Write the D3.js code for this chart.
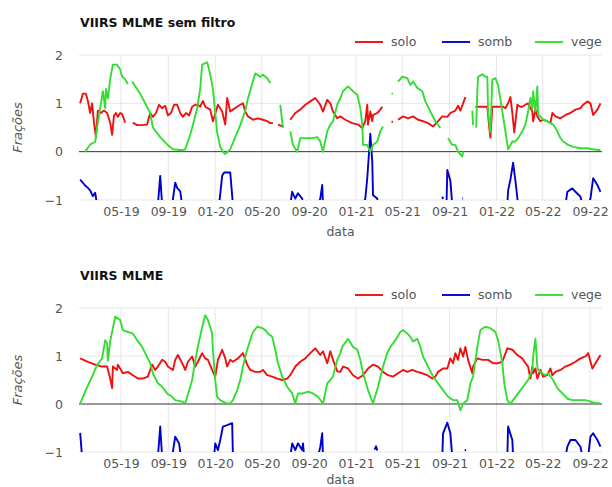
<!DOCTYPE html>
<html>
<head>
<meta charset="utf-8">
<script src="https://cdn.jsdelivr.net/npm/d3@7"></script>
<style>
  body { margin: 0; background: #fff; }
  svg { display: block; }
  text { font-family: "DejaVu Sans", sans-serif; }
</style>
</head>
<body>
<div id="chart"></div>
<script>
// ---- data: [dias desde 2019-01-01, fracao], null = falha ----
const xTickDates = ["2019-05-01","2019-09-01","2020-01-01","2020-05-01","2020-09-01","2021-01-01",
                    "2021-05-01","2021-09-01","2022-01-01","2022-05-01","2022-09-01"];
const yTicks = [2, 1, 0, -1];
const seriesNames = ["solo", "somb", "vege"];

const solo1 = [[14,1.0],[21,1.2],[29,1.2],[34,1.05],[40,0.8],[45,1.0],[50,0.6],[55,0.3],[60,0.85],[68,0.8],
  [76,0.85],[84,0.8],[92,0.6],[97,0.35],[102,0.75],[107,0.8],[112,0.72],[118,0.8],[123,0.78],[131,0.6],[140,null],
  [151,0.6],[162,0.55],[175,0.55],[188,0.56],[196,0.8],[203,0.72],[211,0.8],[219,0.97],[227,0.9],[235,0.95],
  [242,0.75],[250,0.8],[258,0.97],[266,0.97],[274,0.8],[281,0.72],[289,0.8],[297,0.75],[305,0.93],[313,0.97],
  [320,0.97],[326,0.93],[333,1.05],[339,0.93],[352,0.87],[359,0.63],[372,0.97],[383,0.83],[391,0.56],[396,1.11],
  [404,0.83],[411,0.87],[422,0.93],[430,0.97],[437,1.0],[443,0.83],[450,0.73],[463,0.66],[476,0.69],[489,0.66],
  [500,0.63],[508,0.59],[515,0.59],[521,null],[528,0.56],[541,0.52],[550,null],[560,0.66],[573,0.8],[586,0.87],
  [599,0.97],[612,1.04],[625,1.11],[638,0.97],[645,0.83],[656,1.07],[664,1.0],[671,0.83],[682,0.69],[690,0.73],
  [703,0.66],[721,0.59],[736,0.56],[747,0.49],[755,0.63],[760,0.97],[762,0.56],[768,0.83],[773,0.63],[775,0.76],
  [786,0.8],[794,0.87],[799,0.93],[810,null],[823,0.62],[827,0.62],[833,null],[840,0.66],[853,0.73],[866,0.69],
  [879,0.73],[892,0.66],[905,0.63],[918,0.59],[931,0.52],[944,0.63],[955,0.73],[968,0.72],[976,0.8],[989,0.85],
  [996,0.95],[1002,0.85],[1009,1.0],[1015,1.13],[1028,null],[1041,0.93],[1054,0.93],[1072,0.93],[1077,0.5],
  [1080,0.29],[1085,0.93],[1100,0.93],[1113,0.93],[1119,0.9],[1126,1.0],[1132,1.13],[1137,0.8],[1142,0.4],
  [1150,0.97],[1158,0.93],[1163,0.93],[1171,0.97],[1178,1.0],[1189,0.83],[1191,0.63],[1197,0.87],[1202,0.73],
  [1210,0.63],[1217,0.66],[1228,0.63],[1236,0.59],[1241,0.8],[1249,0.73],[1262,0.69],[1275,0.76],[1288,0.8],
  [1301,0.87],[1314,0.9],[1321,0.97],[1332,1.04],[1340,1.0],[1347,0.76],[1358,0.87],[1366,1.0]];

const somb1 = [[14,-0.58],[27,-0.7],[34,-0.75],[40,-0.8],[47,-0.92],[53,-0.85],[58,-1.1],[66,null],
  [216,-1.1],[222,-0.5],[227,-1.1],[235,null],[253,-1.1],[261,-0.64],[266,-0.75],[274,-0.82],[279,-1.1],[287,null],
  [375,-1.1],[383,-0.5],[388,-0.43],[404,-0.43],[411,-1.1],[420,null],
  [560,-1.1],[565,-0.83],[573,-0.97],[580,-0.86],[591,-0.97],[593,-1.1],[600,null],
  [632,-1.1],[638,-0.97],[643,-0.69],[645,-1.1],[650,null],
  [749,-1.1],[755,-0.97],[760,-0.55],[768,0.37],[773,-0.2],[775,-0.9],[786,-0.97],[788,-1.1],[800,null],
  [955,-0.93],[957,-0.98],[962,null],[966,-1.1],[968,-0.38],[976,-0.6],[981,-1.1],[990,null],
  [1007,-0.97],[1009,-0.97],[1015,null],
  [1124,-1.1],[1126,-0.8],[1132,-0.58],[1139,-0.23],[1145,-0.6],[1152,-1.1],[1160,null],
  [1275,-1.1],[1280,-0.83],[1293,-0.76],[1301,-0.83],[1314,-0.93],[1319,-1.1],[1325,null],
  [1334,-1.1],[1340,-0.97],[1347,-0.55],[1358,-0.69],[1366,-0.83]];

const vege1 = [[27,0.0],[40,0.15],[53,0.2],[58,0.5],[66,0.9],[73,1.25],[79,0.9],[81,1.3],[86,1.1],[92,1.5],
  [99,1.8],[110,1.8],[118,1.7],[123,1.55],[131,1.5],[138,1.4],[143,null],[149,1.45],[170,1.2],[196,0.8],[203,0.5],
  [222,0.3],[240,0.15],[255,0.05],[279,0.03],[287,0.05],[300,0.35],[307,0.55],[318,0.9],[326,1.3],[331,1.8],
  [344,1.85],[352,1.6],[359,1.3],[365,0.8],[370,0.4],[378,0.1],[385,0.0],[391,-0.05],[404,0.05],[417,0.3],
  [430,0.55],[443,0.85],[450,1.1],[461,1.4],[469,1.62],[482,1.55],[489,1.59],[500,1.52],[508,1.42],[520,null],
  [534,0.97],[541,0.49],[550,null],[560,0.42],[567,0.14],[578,0.0],[586,0.28],[599,0.28],[617,0.28],[630,0.3],
  [638,0.21],[645,0.0],[656,0.42],[664,0.56],[671,0.63],[682,0.97],[690,1.1],[697,1.25],[710,1.35],[723,1.25],
  [734,1.18],[742,0.9],[747,0.56],[749,0.14],[760,0.14],[768,0.0],[775,0.14],[786,0.21],[794,0.42],[801,0.52],
  [812,null],[823,1.2],[827,1.2],[833,null],[840,1.45],[851,1.55],[864,1.52],[872,1.38],[879,1.45],[890,1.32],
  [903,1.25],[911,1.04],[924,0.83],[937,0.63],[950,0.49],[955,null],[970,0.28],[981,0.14],[989,0.14],[996,0.0],
  [1007,-0.1],[1009,0.0],[1020,null],[1033,0.85],[1035,0.55],[1040,null],[1043,0.5],[1046,1.25],[1048,1.55],
  [1059,1.6],[1067,1.55],[1072,1.55],[1074,0.83],[1080,0.4],[1085,1.49],[1093,1.52],[1100,1.38],[1111,0.83],
  [1119,0.42],[1126,0.05],[1137,0.21],[1145,0.21],[1152,0.28],[1163,0.42],[1171,0.56],[1178,0.83],[1184,1.11],
  [1189,0.9],[1191,1.25],[1197,0.83],[1202,1.35],[1204,0.76],[1210,0.73],[1217,0.66],[1228,0.63],[1236,0.59],
  [1243,0.56],[1254,0.42],[1262,0.28],[1269,0.21],[1282,0.14],[1295,0.1],[1314,0.07],[1332,0.07],[1347,0.05],
  [1366,0.03]];

const solo2 = [[14,0.95],[34,0.88],[53,0.82],[71,0.78],[84,0.78],[92,0.53],[97,0.33],[99,0.78],[110,0.71],
  [112,0.82],[125,0.64],[138,0.67],[151,0.6],[164,0.53],[177,0.53],[190,0.57],[201,0.82],[209,0.71],[216,0.78],
  [227,0.92],[235,0.88],[242,0.78],[255,0.71],[261,0.92],[268,1.02],[279,0.85],[287,0.71],[294,0.88],[305,0.99],
  [313,0.78],[320,0.88],[331,1.06],[339,0.95],[346,0.92],[357,0.71],[365,0.57],[372,0.92],[383,1.13],[391,0.95],
  [396,0.78],[404,0.92],[411,0.88],[424,0.95],[437,1.06],[448,0.82],[456,0.71],[469,0.67],[482,0.67],[489,0.71],
  [500,0.6],[513,0.57],[526,0.53],[539,0.5],[552,0.53],[560,0.6],[573,0.78],[586,0.88],[599,0.95],[612,1.06],
  [625,1.16],[638,1.02],[645,1.1],[656,0.85],[664,1.1],[671,0.92],[682,0.68],[690,0.67],[697,0.78],[710,0.74],
  [723,0.6],[736,0.53],[749,0.6],[762,0.74],[775,0.82],[788,0.78],[801,0.67],[814,0.6],[827,0.57],[840,0.64],
  [853,0.71],[864,0.67],[877,0.71],[890,0.67],[903,0.64],[916,0.6],[929,0.53],[937,0.57],[944,0.67],[957,0.74],
  [968,0.74],[976,0.95],[983,0.85],[989,1.06],[996,0.92],[1002,1.16],[1009,0.99],[1015,1.19],[1022,0.92],
  [1033,0.64],[1035,0.78],[1046,0.95],[1059,0.92],[1074,0.92],[1087,0.85],[1100,0.85],[1111,0.88],[1124,1.16],
  [1137,1.13],[1150,1.02],[1163,0.95],[1171,0.85],[1178,0.78],[1184,0.53],[1189,0.78],[1191,0.64],[1197,0.74],
  [1202,0.53],[1210,0.71],[1217,0.57],[1228,0.6],[1236,0.74],[1241,0.6],[1249,0.67],[1262,0.71],[1275,0.78],
  [1288,0.82],[1301,0.88],[1314,0.95],[1327,0.99],[1334,1.06],[1345,0.74],[1353,0.85],[1366,1.02]];

const somb2 = [[14,-0.6],[16,-0.8],[19,-1.1],[25,null],
  [216,-1.1],[222,-0.47],[227,-1.1],[235,null],[253,-1.1],[261,-0.68],[266,-0.75],[271,-0.82],[276,-1.1],[285,null],
  [362,-1.1],[365,-0.82],[372,-0.96],[378,-0.75],[385,-0.47],[396,-0.44],[409,-0.4],[411,-1.1],[420,null],
  [560,-1.1],[565,-0.82],[573,-0.96],[580,-0.82],[591,-0.96],[593,-0.82],[596,-1.1],[605,null],
  [632,-1.1],[638,-0.89],[643,-0.61],[645,-1.1],[652,null],
  [779,-0.95],[783,-0.88],[786,-0.97],[795,null],
  [955,-1.1],[957,-0.61],[968,-0.39],[976,-0.61],[981,-1.1],[990,null],
  [1013,-0.96],[1017,-0.96],[1020,null],
  [1124,-1.1],[1126,-0.47],[1137,-0.75],[1139,-1.1],[1150,null],
  [1275,-1.1],[1280,-0.89],[1288,-0.75],[1301,-0.75],[1314,-0.89],[1319,-1.1],[1325,null],
  [1334,-1.1],[1340,-0.68],[1347,-0.61],[1358,-0.75],[1366,-0.89]];

const vege2 = [[14,0.01],[27,0.26],[45,0.57],[58,0.81],[71,0.95],[79,1.33],[84,1.26],[86,0.9],[92,1.3],
  [105,1.82],[118,1.75],[125,1.54],[138,1.5],[151,1.47],[162,1.33],[175,1.19],[183,1.06],[196,0.85],[203,0.64],
  [216,0.43],[227,0.36],[240,0.22],[253,0.15],[261,0.08],[279,0.05],[287,0.01],[294,0.2],[305,0.5],[313,0.9],
  [320,1.2],[331,1.6],[339,1.85],[346,1.75],[357,1.47],[359,1.13],[365,0.5],[370,0.15],[378,0.08],[385,0.05],
  [396,0.01],[404,0.01],[411,0.08],[422,0.29],[430,0.5],[437,0.78],[448,1.13],[456,1.33],[463,1.5],[474,1.61],
  [487,1.58],[495,1.54],[502,1.47],[513,1.4],[521,1.13],[528,0.85],[539,0.57],[552,0.36],[565,0.22],[573,0.01],
  [580,0.22],[593,0.22],[606,0.26],[619,0.22],[632,0.15],[645,0.01],[656,0.43],[664,0.5],[671,0.57],[682,0.92],
  [690,1.06],[695,1.19],[710,1.36],[723,1.19],[734,1.13],[742,0.92],[749,0.64],[762,0.29],[775,0.01],[788,0.36],
  [801,0.78],[812,1.06],[820,1.19],[833,1.33],[846,1.5],[853,1.54],[864,1.47],[872,1.4],[879,1.3],[890,1.36],
  [898,1.19],[905,0.99],[918,0.78],[931,0.57],[944,0.43],[957,0.29],[970,0.15],[983,0.08],[994,0.08],
  [1002,-0.13],[1009,0.01],[1020,0.08],[1028,0.43],[1035,0.57],[1046,1.19],[1054,1.54],[1067,1.61],[1080,1.58],
  [1093,1.5],[1100,1.33],[1111,0.85],[1116,0.43],[1124,0.08],[1132,0.0],[1139,0.08],[1152,0.22],[1165,0.36],
  [1178,0.5],[1189,0.71],[1191,0.99],[1197,1.36],[1202,0.78],[1204,0.71],[1215,0.64],[1223,0.6],[1230,0.64],
  [1243,0.5],[1254,0.33],[1267,0.22],[1280,0.11],[1293,0.08],[1308,0.08],[1327,0.08],[1340,0.05],[1353,0.02],
  [1366,0.01]];

//---------Layout------------
const width = 612, height = 487;
const BASE = new Date(2019, 0, 1);
const toDate = d => d3.timeDay.offset(BASE, d);
const colors = { solo: "#ee1111", somb: "#0000cc", vege: "#33dd33" };
const GRID = "#e6e6e6", TXT = "#555";

const panels = [
	{ title: "VIIRS MLME sem filtro", top: 55, bottom: 200, data: { solo: solo1, somb: somb1, vege: vege1 } },
	{ title: "VIIRS MLME", top: 308, bottom: 452, data: { solo: solo2, somb: somb2, vege: vege2 } }
];

const svg = d3.select("#chart").append("svg")
			  .attr("width", width)
			  .attr("height", height);

const x = d3.scaleTime()
			.domain([toDate(11), toDate(1370)])
			.range([79, 602]);

const tickDates = xTickDates.map(s => d3.timeParse("%Y-%m-%d")(s));

panels.forEach((p, i) => {
	const y = d3.scaleLinear().domain([-1, 2]).range([p.bottom, p.top]);
	const g = svg.append("g");

	g.append("clipPath").attr("id", "clip" + i)
	 .append("rect")
	 .attr("x", 79).attr("y", p.top - 1)
	 .attr("width", 523).attr("height", p.bottom - p.top + 1);

	// grid
	g.selectAll(".vgrid").data(tickDates).enter().append("line")
	 .attr("x1", d => x(d)).attr("x2", d => x(d))
	 .attr("y1", p.top).attr("y2", p.bottom)
	 .attr("stroke", GRID);
	g.selectAll(".hgrid").data(yTicks.filter(v => v !== 0)).enter().append("line")
	 .attr("x1", 79).attr("x2", 602)
	 .attr("y1", d => y(d)).attr("y2", d => y(d))
	 .attr("stroke", GRID);

	// zero line
	g.append("line")
	 .attr("x1", 79).attr("x2", 602)
	 .attr("y1", y(0)).attr("y2", y(0))
	 .attr("stroke", "#333").attr("stroke-width", 1);

	// axes
	const xAxis = d3.axisBottom(x).tickValues(tickDates).tickFormat(d3.timeFormat("%m-%y")).tickSize(0);
	const gx = g.append("g").attr("transform", `translate(0,${p.bottom + 4})`).call(xAxis);
	gx.select(".domain").remove();
	gx.selectAll("text").attr("fill", TXT).style("font-size", "12.5px")
	  .style("font-family", "'DejaVu Sans', sans-serif");

	const yAxis = d3.axisLeft(y).tickValues(yTicks).tickFormat(d3.format("d")).tickSize(0);
	const gy = g.append("g").attr("transform", "translate(66,0)").call(yAxis);
	gy.select(".domain").remove();
	gy.selectAll("text").attr("fill", TXT).style("font-size", "12.5px")
	  .style("font-family", "'DejaVu Sans', sans-serif");

	// series
	const line = d3.line()
				   .defined(d => d[1] !== null)
				   .x(d => x(toDate(d[0])))
				   .y(d => y(d[1]));

	const lg = g.append("g").attr("clip-path", `url(#clip${i})`);
	seriesNames.forEach(name => {
		lg.append("path")
		  .datum(p.data[name])
		  .attr("d", line)
		  .attr("fill", "none")
		  .attr("stroke", colors[name])
		  .attr("stroke-width", 1.9)
		  .attr("stroke-linejoin", "round");
	});

	// title
	g.append("text")
	 .attr("x", 80).attr("y", p.top - 28)
	 .style("font-size", "12.5px").style("font-weight", "bold")
	 .attr("fill", "#111")
	 .text(p.title);

	// legend
	const legX = [355, 442, 535];
	seriesNames.forEach((name, k) => {
		g.append("line")
		 .attr("x1", legX[k]).attr("x2", legX[k] + 28)
		 .attr("y1", p.top - 13).attr("y2", p.top - 13)
		 .attr("stroke", colors[name]).attr("stroke-width", 1.9);
		g.append("text")
		 .attr("x", legX[k] + 36).attr("y", p.top - 9)
		 .style("font-size", "12.5px").attr("fill", TXT)
		 .text(name);
	});

	// axis titles
	g.append("text")
	 .attr("x", 340.5).attr("y", Math.min(p.bottom + 36, height - 3))
	 .attr("text-anchor", "middle")
	 .style("font-size", "12.5px").attr("fill", TXT)
	 .text("data");
	g.append("text")
	 .attr("transform", `translate(22,${(p.top + p.bottom) / 2}) rotate(-90)`)
	 .attr("text-anchor", "middle")
	 .style("font-size", "13px").style("font-style", "italic").attr("fill", TXT)
	 .text("Frações");
});
</script>
</body>
</html>
